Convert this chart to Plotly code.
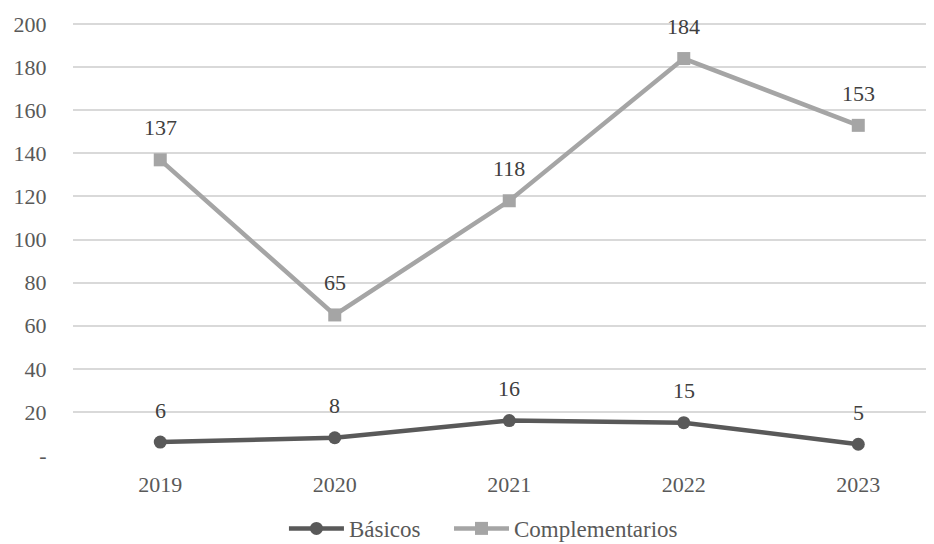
import plotly.graph_objects as go

years = ["2019", "2020", "2021", "2022", "2023"]
basicos = [6, 8, 16, 15, 5]
complementarios = [137, 65, 118, 184, 153]
y_ticks = [0, 20, 40, 60, 80, 100, 120, 140, 160, 180, 200]
y_tick_labels = ["-", "20", "40", "60", "80", "100", "120", "140", "160", "180", "200"]

FONT = "Liberation Serif, Times New Roman, DejaVu Serif, serif"
TXT = "#595959"

fig = go.Figure()
fig.add_trace(go.Scatter(
    x=years, y=basicos, name="Básicos", mode="lines+markers",
    line=dict(color="#595959", width=4.5),
    marker=dict(symbol="circle", size=13, color="#595959"),
    legend="legend",
))
fig.add_trace(go.Scatter(
    x=years, y=complementarios, name="Complementarios", mode="lines+markers",
    line=dict(color="#A5A5A5", width=4.5),
    marker=dict(symbol="square", size=13, color="#A5A5A5"),
    legend="legend2",
))

for series in (basicos, complementarios):
    for i, yv in enumerate(series):
        fig.add_annotation(x=i, y=yv, xref="x", yref="y", text=str(yv), showarrow=False,
                           yshift=32, font=dict(family=FONT, size=22, color="#404040"))

legend_common = dict(orientation="h", xanchor="left", y=-0.17, yanchor="middle",
                     font=dict(family=FONT, size=23, color=TXT), itemwidth=55,
                     bgcolor="rgba(0,0,0,0)")

fig.update_layout(
    width=926, height=536,
    margin=dict(l=65, r=0, t=15, b=89, autoexpand=False),
    paper_bgcolor="white", plot_bgcolor="white",
    font=dict(family=FONT, size=22, color=TXT),
    showlegend=True,
    legend=dict(x=0.245, **legend_common),
    legend2=dict(x=0.4367, **legend_common),
    xaxis=dict(type="category", range=[-0.5, 4.434], showgrid=False, zeroline=False,
               showline=False, ticks="outside", ticklen=10, tickcolor="rgba(0,0,0,0)",
               automargin=False,
               tickfont=dict(family=FONT, size=22, color=TXT)),
    yaxis=dict(range=[0, 200.5], tickvals=y_ticks, ticktext=y_tick_labels,
               showgrid=True, gridcolor="#D9D9D9", gridwidth=1.5, zeroline=False,
               showline=False, ticks="outside", ticklen=21, tickcolor="rgba(0,0,0,0)",
               automargin=False,
               tickfont=dict(family=FONT, size=22, color=TXT)),
)

fig.write_html("out.html")
